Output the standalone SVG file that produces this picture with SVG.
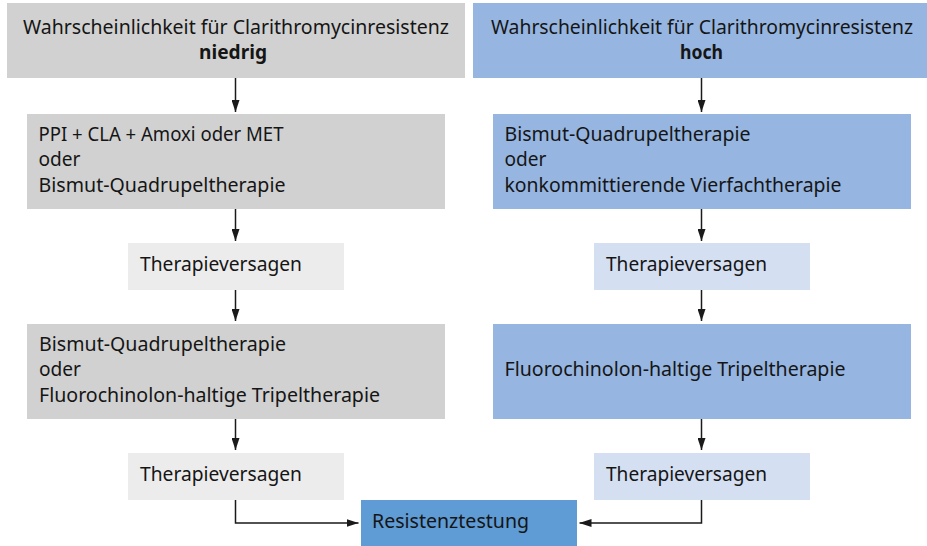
<svg xmlns="http://www.w3.org/2000/svg" width="927" height="546" viewBox="0 0 927 546">
<style>
text{font-family:"Noto Sans","Liberation Sans",sans-serif;font-size:19px;fill:#151515}
.b{font-weight:bold}
.m{text-anchor:middle}
.g1{fill:#d1d1d1}
.g2{fill:#ececec}
.b1{fill:#96b6e1}
.b2{fill:#d4dff2}
.b3{fill:#5f9bd4}
.c{fill:none;stroke:#1a1a1a;stroke-width:1.5}
</style>
<defs>
<marker id="ah" markerUnits="userSpaceOnUse" markerWidth="12" markerHeight="8" refX="12" refY="4" orient="auto">
<path d="M0,0 L12,4 L0,8 Z" fill="#1a1a1a"/>
</marker>
</defs>
<g id="n-low">
<rect class="g1" x="7" y="3" width="458" height="75"/>
<text class="m" x="236" y="33.5" textLength="426" lengthAdjust="spacingAndGlyphs">Wahrscheinlichkeit für Clarithromycinresistenz</text>
<text class="m b" x="233" y="59" textLength="68" lengthAdjust="spacingAndGlyphs">niedrig</text>
</g>
<g id="n-high">
<rect class="b1" x="473" y="3" width="454" height="75"/>
<text class="m" x="702" y="33.5" textLength="422" lengthAdjust="spacingAndGlyphs">Wahrscheinlichkeit für Clarithromycinresistenz</text>
<text class="m b" x="701.5" y="59" textLength="43" lengthAdjust="spacingAndGlyphs">hoch</text>
</g>
<g id="n-l1">
<rect class="g1" x="27" y="114" width="418" height="95"/>
<text x="38.5" y="140.7" textLength="245" lengthAdjust="spacingAndGlyphs">PPI + CLA + Amoxi oder MET</text>
<text x="38.5" y="166.2" textLength="42" lengthAdjust="spacingAndGlyphs">oder</text>
<text x="38.5" y="191.7" textLength="247" lengthAdjust="spacingAndGlyphs">Bismut-Quadrupeltherapie</text>
</g>
<g id="n-r1">
<rect class="b1" x="493" y="114" width="418" height="95"/>
<text x="504.5" y="140.7" textLength="246" lengthAdjust="spacingAndGlyphs">Bismut-Quadrupeltherapie</text>
<text x="504.5" y="166.2" textLength="42" lengthAdjust="spacingAndGlyphs">oder</text>
<text x="504.5" y="191.7" textLength="337" lengthAdjust="spacingAndGlyphs">konkommittierende Vierfachtherapie</text>
</g>
<g id="n-l2">
<rect class="g2" x="128" y="243" width="216" height="47"/>
<text x="140" y="271" textLength="162" lengthAdjust="spacingAndGlyphs">Therapieversagen</text>
</g>
<g id="n-r2">
<rect class="b2" x="594" y="243" width="216" height="47"/>
<text x="606" y="271" textLength="161" lengthAdjust="spacingAndGlyphs">Therapieversagen</text>
</g>
<g id="n-l3">
<rect class="g1" x="27" y="324" width="418" height="95"/>
<text x="39" y="350.7" textLength="247" lengthAdjust="spacingAndGlyphs">Bismut-Quadrupeltherapie</text>
<text x="39" y="376.2" textLength="42" lengthAdjust="spacingAndGlyphs">oder</text>
<text x="39" y="401.7" textLength="341" lengthAdjust="spacingAndGlyphs">Fluorochinolon-haltige Tripeltherapie</text>
</g>
<g id="n-r3">
<rect class="b1" x="493" y="324" width="418" height="95"/>
<text x="504.5" y="376.2" textLength="341" lengthAdjust="spacingAndGlyphs">Fluorochinolon-haltige Tripeltherapie</text>
</g>
<g id="n-l4">
<rect class="g2" x="128" y="453" width="216" height="47"/>
<text x="140" y="481" textLength="162" lengthAdjust="spacingAndGlyphs">Therapieversagen</text>
</g>
<g id="n-r4">
<rect class="b2" x="594" y="453" width="216" height="47"/>
<text x="606" y="481" textLength="161" lengthAdjust="spacingAndGlyphs">Therapieversagen</text>
</g>
<g id="n-res">
<rect class="b3" x="361" y="500" width="216" height="46"/>
<text x="372" y="528" textLength="157" lengthAdjust="spacingAndGlyphs">Resistenztestung</text>
</g>
<g id="connectors">
<path class="c" d="M235.5,78 V112" marker-end="url(#ah)"/>
<path class="c" d="M235.5,209 V241" marker-end="url(#ah)"/>
<path class="c" d="M235.5,290 V321" marker-end="url(#ah)"/>
<path class="c" d="M235.5,419 V450" marker-end="url(#ah)"/>
<path class="c" d="M701.5,78 V112" marker-end="url(#ah)"/>
<path class="c" d="M701.5,209 V241" marker-end="url(#ah)"/>
<path class="c" d="M701.5,290 V321" marker-end="url(#ah)"/>
<path class="c" d="M701.5,419 V450" marker-end="url(#ah)"/>
<path class="c" d="M235.5,500 V523 H358.5" marker-end="url(#ah)"/>
<path class="c" d="M701.5,500 V523 H579.5" marker-end="url(#ah)"/>
</g>
</svg>
